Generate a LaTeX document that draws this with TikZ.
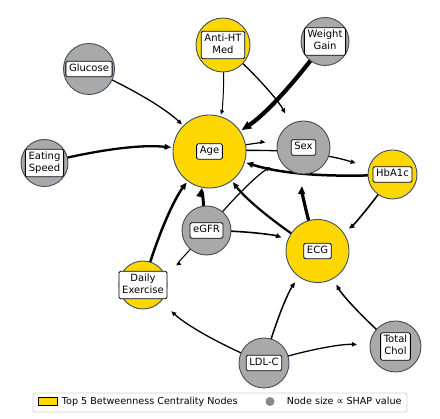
\documentclass[tikz,border=0pt]{standalone}
\usepackage{fontspec}
\setmainfont{DejaVu Sans}
\usetikzlibrary{arrows.meta,backgrounds}
\definecolor{gold}{HTML}{FFD700}
\definecolor{nodegray}{HTML}{A9A9A9}
\definecolor{rim}{HTML}{3E4E60}
\definecolor{legendgray}{HTML}{D0D0D0}
\definecolor{markergray}{HTML}{888888}
\begin{document}
\begin{tikzpicture}[x=1pt,y=-1pt,
  feat/.style={circle, draw=rim, line width=0.9pt, minimum size=#1, inner sep=0pt},
  topnode/.style={feat=#1, fill=gold},
  othnode/.style={feat=#1, fill=nodegray},
  lbl/.style={draw=black, fill=white, rounded corners=1.5pt, line width=0.8pt,
    inner xsep=3.2pt, inner ysep=1.8pt, align=center, font=\fontsize{10}{12}\selectfont},
  lnk/.style={-{Triangle[length={3pt 1.6},width={2.5pt 1.3}]}, line width=#1,
    shorten >=38.5pt, bend left=10},
  legtext/.style={font=\fontsize{9.6}{11.5}\selectfont, inner sep=0pt, anchor=base west}
]
\useasboundingbox (0,0) rectangle (440,419);

% nodes
\node[topnode=73pt] (age) at (209.5,151.5) {};
\node[othnode=53pt] (sex) at (303.5,147.5) {};
\node[topnode=49pt] (hba) at (392.5,174.5) {};
\node[othnode=51pt] (glu) at (89,69) {};
\node[topnode=54pt] (anti) at (223,45) {};
\node[othnode=48pt] (wg) at (325,41.5) {};
\node[othnode=47pt] (eat) at (44.5,163) {};
\node[othnode=49pt] (egfr) at (206.5,230.5) {};
\node[topnode=63pt] (ecg) at (317.5,251) {};
\node[topnode=48pt] (daily) at (143,285) {};
\node[othnode=50pt] (ldl) at (264,363) {};
\node[othnode=51pt] (tot) at (395.5,346.5) {};

% labels
\node[lbl] (ageL) at (age) {\strut Age};
\node[lbl] (sexL) at (sex) {\strut Sex};
\node[lbl] (hbaL) at (hba) {\strut HbA1c};
\node[lbl] (gluL) at (glu) {\strut Glucose};
\node[lbl] (antiL) at (anti) {\strut Anti-HT\\\strut Med};
\node[lbl] (wgL) at (wg) {\strut Weight\\\strut Gain};
\node[lbl] (eatL) at (eat) {\strut Eating\\\strut Speed};
\node[lbl] (egfrL) at (egfr) {\strut eGFR};
\node[lbl] (ecgL) at (ecg) {\strut ECG};
\node[lbl] (dailyL) at (daily) {\strut Daily\\\strut Exercise};
\node[lbl] (ldlL) at (ldl) {\strut LDL-C};
\node[lbl] (totL) at (tot) {\strut Total\\\strut Chol};

% edges
\begin{scope}[on background layer]
\draw[lnk=1.3pt] (glu.center) to (age.center);
\draw[lnk=1.0pt] (anti.center) to (age.center);
\draw[lnk=1.3pt] (anti.center) to (sex.center);
\draw[lnk=4.2pt] (wg.center) to (age.center);
\draw[lnk=2.3pt] (eat.center) to (age.center);
\draw[lnk=1.2pt] (age.center) to (sex.center);
\draw[lnk=1.3pt] (age.center) to (hba.center);
\draw[lnk=2.5pt] (hba.center) to (age.center);
\draw[lnk=3.0pt] (egfr.center) to (age.center);
\draw[lnk=1.2pt] (egfr.center) to (sex.center);
\draw[lnk=1.6pt] (egfr.center) to (ecg.center);
\draw[lnk=1.0pt] (egfr.center) to (daily.center);
\draw[lnk=2.2pt] (ecg.center) to (age.center);
\draw[lnk=3.2pt] (ecg.center) to (sex.center);
\draw[lnk=1.6pt] (hba.center) to (ecg.center);
\draw[lnk=2.5pt] (daily.center) to (age.center);
\draw[lnk=1.5pt] (ldl.center) to (ecg.center);
\draw[lnk=1.3pt] (ldl.center) to (daily.center);
\draw[lnk=1.3pt] (ldl.center) to (tot.center);
\draw[lnk=1.5pt] (tot.center) to (ecg.center);
\end{scope}

% legend
\node[draw=legendgray, fill=white, rounded corners=2pt, line width=0.8pt,
  minimum width=374pt, minimum height=19pt, inner sep=0pt] (legend) at (220,402.5) {};
\node[draw=black, fill=gold, line width=0.7pt, minimum width=19pt, minimum height=7.5pt,
  inner sep=0pt] (patch) at (47.5,401.5) {};
\node[legtext] (leg1) at (61.7,405) {Top 5 Betweenness Centrality Nodes};
\node[circle, fill=markergray, minimum size=9pt, inner sep=0pt] (mk) at (270,401.5) {};
\node[legtext] (leg2) at (286.7,405) {Node size ∝ SHAP value};
\end{tikzpicture}
\end{document}
